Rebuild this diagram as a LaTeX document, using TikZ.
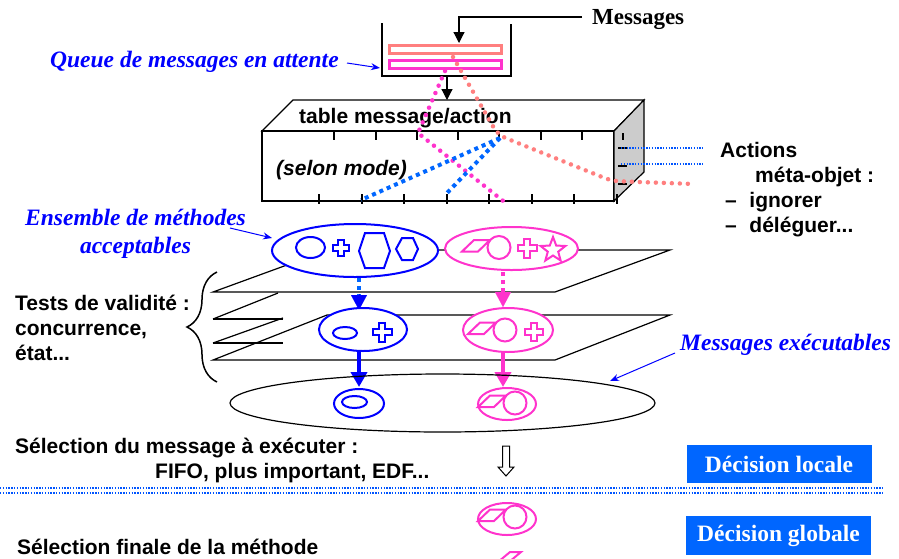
\documentclass[tikz,border=0pt]{standalone}
\usepackage{fontspec}
\setmainfont{Liberation Serif}
\setsansfont{Liberation Sans}
\usetikzlibrary{arrows.meta,decorations.pathreplacing,shapes.geometric}
\definecolor{qblue}{HTML}{0000FF}
\definecolor{mag}{HTML}{FF33CC}
\definecolor{salm}{HTML}{FF7F7F}
\definecolor{dblue}{HTML}{0066FF}
\definecolor{lblue}{HTML}{0055FF}
\definecolor{boxblue}{HTML}{0066FF}
\begin{document}
\begin{tikzpicture}[x=1pt,y=-1pt,
  blabel/.style={text=qblue,font=\fontsize{23.5}{28}\selectfont\bfseries\itshape,inner sep=0pt},
  slabel/.style={font=\fontsize{21}{25}\selectfont\sffamily\bfseries,inner sep=0pt},
  msglabel/.style={font=\fontsize{23}{27}\selectfont\bfseries,inner sep=0pt},
  deci/.style={fill=boxblue,text=white,font=\fontsize{23.5}{27}\selectfont\bfseries,minimum width=185pt,minimum height=38pt,inner sep=0pt},
  blk/.style={draw=black,line width=1.2pt},
  tick/.style={draw=black,line width=2pt},
  blueshape/.style={draw=qblue,line width=2pt},
  magshape/.style={draw=mag,line width=2pt},
  bluedots/.style={draw=dblue,line width=4pt,dash pattern=on 4pt off 4pt},
  magdots/.style={draw=mag,line width=4.5pt,line cap=round,dash pattern=on 0pt off 8pt},
  saldots/.style={draw=salm,line width=4.5pt,line cap=round,dash pattern=on 0pt off 8pt},
  thindots/.style={draw=lblue,line width=1.1pt,dash pattern=on 1.4pt off 1.4pt},
  annot/.style={draw=qblue,line width=1pt,-{Stealth[length=9pt,width=7pt]}},
  bigtip/.style={-{Triangle[width=16pt,length=15pt]}},
  smalltip/.style={-{Triangle[width=11pt,length=11pt]}},
  pics/gcross/.style={code={\draw[pic actions] ({-#1},{-0.35*#1}) -- ({-0.35*#1},{-0.35*#1}) -- ({-0.35*#1},{-#1}) -- ({0.35*#1},{-#1}) -- ({0.35*#1},{-0.35*#1}) -- ({#1},{-0.35*#1}) -- ({#1},{0.35*#1}) -- ({0.35*#1},{0.35*#1}) -- ({0.35*#1},{#1}) -- ({-0.35*#1},{#1}) -- ({-0.35*#1},{0.35*#1}) -- ({-#1},{0.35*#1}) -- cycle;}},
  pics/pcirc/.style={code={\draw[pic actions] (0,0) circle (11.5); \draw[pic actions] (-37,4) -- (-21,4) -- (-9,-7.5) -- (-25,-7.5) -- cycle;}}
]
\useasboundingbox (0,0) rectangle (899,558);
\begin{scope}
\clip (0,0) rectangle (899,558);

% ---------- queue ----------
\draw[blk] (382,23) -- (382,76) -- (511,76) -- (511,24);
\draw[salm,line width=3pt,fill=white] (389.5,45.5) rectangle (501.5,53.5);
\draw[mag,line width=3pt,fill=white] (389.5,60.5) rectangle (501.5,68.5);
\node[msglabel,anchor=west] (msg) at (592,20) {Messages};
\coordinate (msgstart) at (582,17);
\coordinate (msgbend) at (459,17);
\coordinate (qtop) at (459,43);
\draw[blk,smalltip] (msgstart) -- (msgbend) -- (qtop);
\node[blabel,anchor=west] (queue) at (50,62) {Queue de messages en attente};
\coordinate (qleft) at (380,68);
\draw[annot] (347,63) -- (qleft);

% ---------- box ----------
\fill[white] (262,131) -- (293,100) -- (644,100) -- (614,131) -- cycle;
\draw[blk] (262,131) -- (293,100) -- (644,100) -- (614,131) -- cycle;
\draw[blk,fill=white] (262,131) rectangle (614,201);
\draw[blk,fill=black!20] (614,131) -- (644,100) -- (644,172) -- (614,201) -- cycle;
\coordinate (qbot) at (447,76);
\coordinate (boxtop) at (447,100);
\draw[blk,smalltip] (qbot) -- (boxtop);
\foreach \x in {334,376,417,458,499,541,582} \draw[tick] (\x,131) -- (\x,140);
\foreach \x in {319,362,404,447,489,532,574,617} \draw[tick] (\x,194) -- (\x,204);
\draw[tick] (623,133) -- (623,140);
\draw[tick] (618,148) -- (627,148);
\draw[tick] (618,166) -- (627,166);
\draw[tick] (618,184) -- (627,184);
\node[slabel,anchor=west] (tbl) at (299,118) {table message/action};
\node[slabel,anchor=west,font=\fontsize{21}{25}\selectfont\sffamily\bfseries\itshape] (selon) at (276,170) {(selon mode)};

% dotted routes
\draw[saldots,rounded corners=8pt] (453,57) -- (498,135) -- (612,181) -- (694,184);
\draw[magdots] (445,71) -- (418,133) -- (507,204);
\coordinate (bsrc) at (500,138);
\draw[bluedots] (bsrc) -- (361,200);
\draw[bluedots] (bsrc) -- (447,193);
\draw[thindots] (621,148) -- (703,148);
\draw[thindots] (621,164) -- (703,164);

% actions text
\node[slabel,anchor=west] (act) at (720,150) {Actions};
\node[slabel,anchor=west] (meta) at (755,177) {méta-objet :};
\node[slabel,anchor=west] (ign) at (725,202) {–\hspace{0.6em}ignorer};
\node[slabel,anchor=west] (del) at (725,227) {–\hspace{0.6em}déléguer...};

% ---------- planes ----------
\draw[blk] (213,292) -- (555,292) -- (670,250) -- (328,250) -- cycle;
\draw[blk] (213,319) -- (283,319);
\draw[blk] (213,319) -- (278,293);
\draw[blk] (213,343) -- (283,343);
\draw[blk] (213,343) -- (283,318);
\draw[blk] (213,360) -- (555,360) -- (670,315) -- (327,315) -- cycle;

% ---------- top ellipses ----------
\draw[blueshape,fill=white] (355,250.5) ellipse [x radius=83, y radius=26.5];
\draw[blueshape] (310.5,247.5) ellipse [x radius=14.5, y radius=10.5];
\pic[draw=qblue,line width=2pt] at (341,248) {gcross=8};
\draw[blueshape] (359,251) -- (365,233) -- (384,233) -- (390,251) -- (384,268) -- (365,268) -- cycle;
\draw[blueshape] (396,249) -- (402,238) -- (413,238) -- (418,249) -- (413,260) -- (402,260) -- cycle;

\draw[magshape,fill=white] (511.5,248.5) ellipse [x radius=66.5, y radius=21.5];
\pic[draw=mag,line width=2pt] at (499,247.5) {pcirc};
\pic[draw=mag,line width=2pt] at (527,248) {gcross=9.5};
\draw[magshape,shift={(553,250)}] (-90:13) \foreach \i in {1,...,9} { -- ({-90+36*\i}:{ifthenelse(mod(\i,2)==0,13,5.5)}) } -- cycle;

\node[blabel,align=center] (ens) at (135.5,234) {Ensemble de méthodes\\acceptables};
\coordinate (ensend) at (272,238);
\draw[annot] (230,228) -- (ensend);

% ---------- arrows top -> row2 ----------
\draw[bluedots] (359,278) -- (359,296);
\draw[qblue,line width=0.1pt,bigtip] (359,294) -- (359,310);
\draw[draw=mag,line width=4pt,dash pattern=on 4pt off 4pt] (503,272) -- (503,292);
\draw[mag,line width=0.1pt,bigtip] (503,290) -- (503,307);

% ---------- row 2 ----------
\draw[blueshape,fill=white] (363,329.5) ellipse [x radius=44, y radius=21.5];
\draw[blueshape] (345,333) ellipse [x radius=12, y radius=6];
\pic[draw=qblue,line width=2pt] at (382,332) {gcross=9.5};
\draw[magshape,fill=white] (508,330) ellipse [x radius=45, y radius=22];
\pic[draw=mag,line width=2pt] at (505,330) {pcirc};
\pic[draw=mag,line width=2pt] at (534,332) {gcross=9};

% brace and tests
\draw[line width=1.5pt,decorate,decoration={brace,amplitude=30pt}] (217,382) -- (217,272);
\node[slabel,align=left,anchor=west] (tests) at (15,328) {Tests de validité :\\concurrence,\\état...};

% ---------- arrows row2 -> bottom ----------
\draw[qblue,line width=4pt,bigtip] (359,352) -- (359,387);
\draw[mag,line width=4pt,bigtip] (503,352) -- (503,387);

% ---------- bottom ellipse ----------
\draw[blk] (442.5,403) ellipse [x radius=212.5, y radius=29];
\draw[blueshape] (359,403.5) ellipse [x radius=25, y radius=14.5];
\draw[blueshape] (354.5,402) ellipse [x radius=12.5, y radius=6];
\draw[magshape] (507,404) ellipse [x radius=29, y radius=16];
\pic[draw=mag,line width=2pt] at (515,403) {pcirc};

\node[blabel,anchor=west] (exec) at (680,345) {Messages exécutables};
\coordinate (execend) at (610,381);
\draw[annot] (675,353) -- (execend);

% ---------- selection ----------
\node[slabel,anchor=west] (sel) at (15,448) {Sélection du message à exécuter :};
\node[slabel,anchor=west] (fifo) at (155,473) {FIFO, plus important, EDF...};
\draw[black,line width=1pt] (502.5,446) -- (509.5,446) -- (509.5,467) -- (514,467) -- (506,476) -- (498,467) -- (502.5,467) -- cycle;
\node[deci] (loc) at (779,464) {Décision locale};

\draw[thindots] (0,488) -- (883,488);
\draw[thindots] (0,493) -- (883,493);

\draw[magshape] (507,519) ellipse [x radius=29, y radius=16];
\pic[draw=mag,line width=2pt] at (515,517) {pcirc};
\draw[magshape] (498,562) -- (510,552) -- (521,552) -- (509,562);

\node[deci,minimum height=39pt] (glob) at (778.5,535.5) {Décision globale};
\node[slabel,anchor=west] (fin) at (17,547) {Sélection finale de la méthode};
\end{scope}
\end{tikzpicture}
\end{document}
